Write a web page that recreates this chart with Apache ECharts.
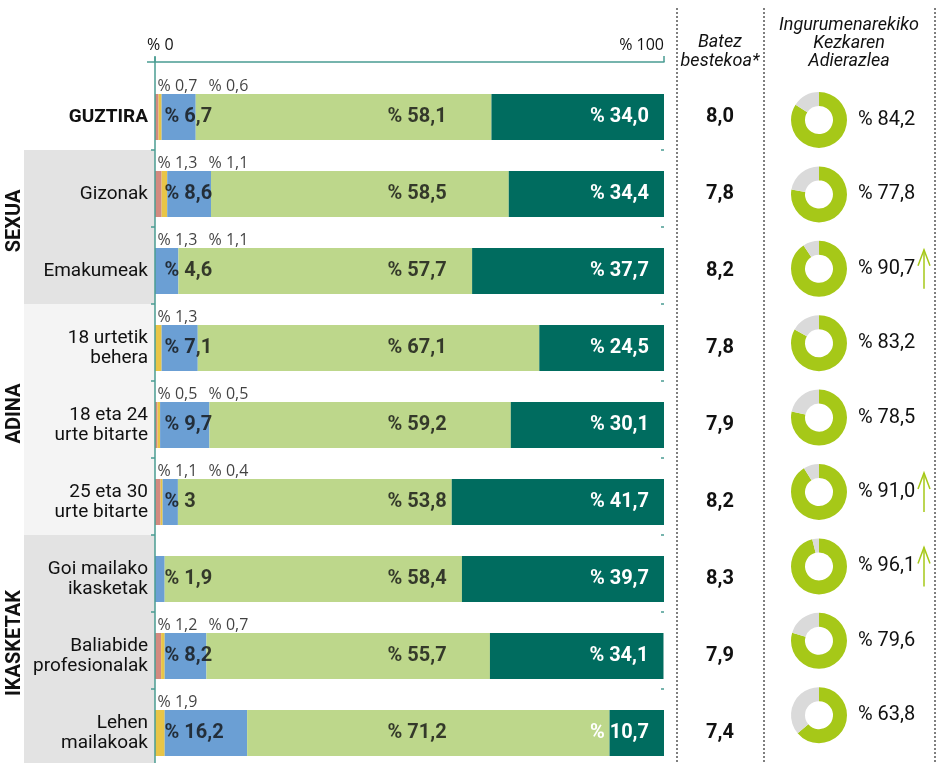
<!DOCTYPE html>
<html>
<head>
<meta charset="utf-8">
<title>Ingurumenarekiko kezka</title>
<script src="https://cdn.jsdelivr.net/npm/echarts@6/dist/echarts.min.js"></script>
<style>
  html, body { margin: 0; padding: 0; background: #fff; }
  #chart { width: 936px; height: 763px; }
</style>
</head>
<body>
<div id="chart"></div>
<script>
// Rows, top to bottom
var rowNames = ['GUZTIRA', 'Gizonak', 'Emakumeak', '18 urtetik\nbehera', '18 eta 24\nurte bitarte',
    '25 eta 30\nurte bitarte', 'Goi mailako\nikasketak', 'Baliabide\nprofesionalak', 'Lehen\nmailakoak'];

// Stacked shares (%) as drawn
var pinkShare = [0.7, 1.3, 0, 0, 0.5, 1.1, 0, 1.2, 0];
var yellowShare = [0.6, 1.1, 0, 1.3, 0.5, 0.4, 0, 0.7, 1.9];
var blueShare = [6.7, 8.6, 4.6, 7.1, 9.7, 3, 1.9, 8.2, 16.2];
var lightGreenShare = [58.1, 58.5, 57.7, 67.1, 59.2, 53.8, 58.4, 55.7, 71.2];
var darkGreenShare = [34.0, 34.4, 37.7, 24.5, 30.1, 41.7, 39.7, 34.1, 10.7];

// Small values printed above the bars (first and second slot)
var smallFirst = ['0,7', '1,3', '1,3', '1,3', '0,5', '1,1', '', '1,2', '1,9'];
var smallSecond = ['0,6', '1,1', '1,1', '', '0,5', '0,4', '', '0,7', ''];

var batezBestekoa = [8.0, 7.8, 8.2, 7.8, 7.9, 8.2, 8.3, 7.9, 7.4];
var kezkaIndex = [84.2, 77.8, 90.7, 83.2, 78.5, 91.0, 96.1, 79.6, 63.8];
var kezkaUp = [false, false, true, false, false, true, true, false, false];

var groupNames = ['SEXUA', 'ADINA', 'IKASKETAK'];
var groupFirst = [1, 3, 6];
var groupLast = [2, 5, 8];
var xTickLabels = ['% 0', '% 100'];

// Colours and fonts
var PINK = '#d28a80', YELLOW = '#e8c547', BLUE = '#6b9fd4', LGREEN = '#bdd78b', DGREEN = '#006c5f';
var TEAL = '#4a9c92', DONUT_GREEN = '#a6c818', DONUT_GREY = '#dadada';
var PANEL = ['#e3e3e3', '#f4f4f4', '#e3e3e3'];
var INK = '#111';
var FONT = 'Roboto, "Noto Sans", sans-serif';
var SMALL_FONT = '"Open Sans", Roboto, sans-serif';
var DONUT_X = 819;

function fmt1(v) { return v.toFixed(1).replace('.', ','); }
function fmtRaw(v) { return String(v).replace('.', ','); }

var chart = echarts.init(document.getElementById('chart'), null, { renderer: 'canvas' });

var stackArrays = [pinkShare, yellowShare, blueShare, lightGreenShare, darkGreenShare];
var stackColors = [PINK, YELLOW, BLUE, LGREEN, DGREEN];

var series = stackArrays.map(function (arr, k) {
    return {
        type: 'bar', stack: 'total', xAxisIndex: 0, yAxisIndex: 0,
        barWidth: 46, silent: true, data: arr,
        itemStyle: { color: stackColors[k] },
        label: k === 4 ? {
            show: true, position: 'insideRight', distance: 15,
            color: '#fff', fontWeight: 'bold', fontSize: 20, fontFamily: FONT,
            formatter: function (p) { return '% ' + fmt1(p.value); }
        } : { show: false }
    };
});

// text-only helpers anchored at the 0 line of each row
function textRow(opts) {
    return {
        type: 'scatter', xAxisIndex: 0, yAxisIndex: 0, silent: true,
        symbolSize: 1, itemStyle: { color: 'transparent' },
        data: rowNames.map(function (n, i) { return [0, i]; }),
        label: Object.assign({ show: true, position: 'right', fontFamily: FONT, color: INK }, opts)
    };
}

series.push(textRow({
    distance: 2, offset: [0, -31], fontSize: 16, fontFamily: SMALL_FONT,
    formatter: function (p) { var t = smallFirst[p.dataIndex]; return t ? '% ' + t : ''; }
}));
series.push(textRow({
    distance: 53, offset: [0, -31], fontSize: 16, fontFamily: SMALL_FONT,
    formatter: function (p) { var t = smallSecond[p.dataIndex]; return t ? '% ' + t : ''; }
}));
series.push(textRow({
    distance: 9, fontSize: 20, fontWeight: 'bold',
    formatter: function (p) { return '% ' + fmtRaw(blueShare[p.dataIndex]); }
}));
series.push(textRow({
    distance: 232, fontSize: 20, fontWeight: 'bold',
    formatter: function (p) { return '% ' + fmt1(lightGreenShare[p.dataIndex]); }
}));

var tickAxis = function (inside, len) {
    return {
        gridIndex: 1, type: 'category', inverse: true, data: rowNames,
        axisLine: { show: false }, axisLabel: { show: false },
        axisTick: {
            show: true, inside: inside, length: len,
            interval: function (i) { return i > 0; },
            lineStyle: { color: TEAL, width: 1.5 }
        }
    };
};

var option = {
    animation: false,
    backgroundColor: '#fff',
    textStyle: { fontFamily: FONT },
    grid: [
        { left: 155, width: 509, top: 78.5, height: 693, outerBoundsMode: 'none' },
        { left: 155, width: 509, top: 73, height: 693, outerBoundsMode: 'none' },
        { left: 858, width: 70, top: 82.8, height: 669.6, outerBoundsMode: 'none' }
    ],
    xAxis: [
        {
            gridIndex: 0, type: 'value', position: 'top', offset: 16.5,
            min: 0, max: 100, interval: 100,
            axisLine: { show: true, lineStyle: { color: TEAL, width: 1.5 } },
            axisTick: { show: true, length: 6, lineStyle: { color: TEAL, width: 1.5 } },
            splitLine: { show: false },
            axisLabel: {
                margin: 9, fontSize: 16, color: INK, fontFamily: SMALL_FONT,
                alignMinLabel: 'left', alignMaxLabel: 'right', padding: [0, 0, 0, -8],
                formatter: function (v) { return v === 0 ? xTickLabels[0] : xTickLabels[1]; }
            }
        },
        { gridIndex: 1, type: 'value', min: 0, max: 100, show: false },
        { gridIndex: 2, type: 'value', min: 0, max: 100, show: false }
    ],
    yAxis: [
        {
            gridIndex: 0, type: 'category', inverse: true, data: rowNames, z: 3,
            axisLine: { show: false }, axisTick: { show: false },
            axisLabel: {
                margin: 7, fontSize: 19, lineHeight: 20, color: INK, fontFamily: FONT,
                formatter: function (v, i) { return i === 0 ? '{b|' + v + '}' : v; },
                rich: { b: { fontWeight: 'bold', fontSize: 19, fontFamily: FONT, color: INK } }
            }
        },
        {
            gridIndex: 0, type: 'category', inverse: true, data: rowNames, position: 'right',
            axisLine: { show: false }, axisTick: { show: false },
            axisLabel: {
                margin: 56, align: 'center', fontSize: 20, fontWeight: 'bold', color: INK, fontFamily: FONT,
                formatter: function (v, i) { return fmt1(batezBestekoa[i]); }
            }
        },
        tickAxis(false, 4),
        tickAxis(true, 3),
        {
            gridIndex: 2, type: 'category', inverse: true, data: rowNames,
            axisLine: { show: false }, axisTick: { show: false },
            axisLabel: {
                inside: true, margin: 0, fontSize: 20, color: INK, fontFamily: FONT,
                formatter: function (v, i) { return '% ' + fmt1(kezkaIndex[i]); }
            }
        }
    ],
    series: series
};

chart.setOption(option);

// second pass: things placed from the axes' pixel positions
var x0 = chart.convertToPixel({ xAxisIndex: 0 }, 0);
var band = chart.convertToPixel({ yAxisIndex: 2 }, 1) - chart.convertToPixel({ yAxisIndex: 2 }, 0);
function bandTop(i) { return chart.convertToPixel({ yAxisIndex: 2 }, i) - band / 2; }
function donutY(i) { return chart.convertToPixel({ yAxisIndex: 4 }, i); }

var graphics = [];
groupNames.forEach(function (name, g) {
    var top = bandTop(groupFirst[g]);
    var bottom = Math.min(bandTop(groupLast[g]) + band, 763);
    graphics.push({
        type: 'rect', z: 0, silent: true,
        shape: { x: 24, y: top, width: x0 - 24, height: bottom - top },
        style: { fill: PANEL[g] }
    });
    graphics.push({
        type: 'text', z: 4, silent: true, x: 15, y: (top + bottom) / 2 - 6, rotation: Math.PI / 2,
        style: { text: name, fill: INK, font: 'bold 20px ' + FONT, align: 'center', verticalAlign: 'middle' }
    });
});

// vertical axis line and short left stub of the top line
graphics.push({ type: 'line', z: 4, silent: true, shape: { x1: x0, y1: 57, x2: x0, y2: 763 },
    style: { stroke: TEAL, lineWidth: 1.5 } });
graphics.push({ type: 'line', z: 4, silent: true, shape: { x1: x0 - 8, y1: 62, x2: x0, y2: 62 },
    style: { stroke: TEAL, lineWidth: 1.5 } });

// dotted column separators
[677, 764, 935].forEach(function (x) {
    graphics.push({ type: 'line', silent: true, shape: { x1: x, y1: 8, x2: x, y2: 763 },
        style: { stroke: '#555', lineWidth: 1.5, lineDash: [2, 2] } });
});

// column headers
graphics.push({ type: 'text', silent: true, x: 720, y: 52,
    style: { text: 'Batez\nbestekoa*', fill: INK, font: 'italic 18px ' + FONT, lineHeight: 19,
        align: 'center', verticalAlign: 'middle' } });
graphics.push({ type: 'text', silent: true, x: 849, y: 43,
    style: { text: 'Ingurumenarekiko\nKezkaren\nAdierazlea', fill: INK, font: 'italic 18px ' + FONT,
        lineHeight: 18, align: 'center', verticalAlign: 'middle' } });

// up arrows
kezkaUp.forEach(function (up, i) {
    if (!up) return;
    var y = donutY(i);
    graphics.push({ type: 'polyline', silent: true,
        shape: { points: [[924, y + 20], [924, y - 19]] },
        style: { stroke: DONUT_GREEN, lineWidth: 1.5, fill: null } });
    graphics.push({ type: 'polyline', silent: true,
        shape: { points: [[918, y - 3], [924, y - 19], [930, y - 3]] },
        style: { stroke: DONUT_GREEN, lineWidth: 1.5, fill: null } });
});

var pies = kezkaIndex.map(function (v, i) {
    return {
        type: 'pie', silent: true, center: [DONUT_X, donutY(i)], radius: [14, 28],
        startAngle: 90, clockwise: true,
        label: { show: false }, labelLine: { show: false },
        data: [
            { value: v, itemStyle: { color: DONUT_GREEN } },
            { value: 100 - v, itemStyle: { color: DONUT_GREY } }
        ]
    };
});

chart.setOption({ series: series.concat(pies), graphic: graphics });

window.addEventListener('resize', function () { chart.resize(); });
</script>
</body>
</html>
